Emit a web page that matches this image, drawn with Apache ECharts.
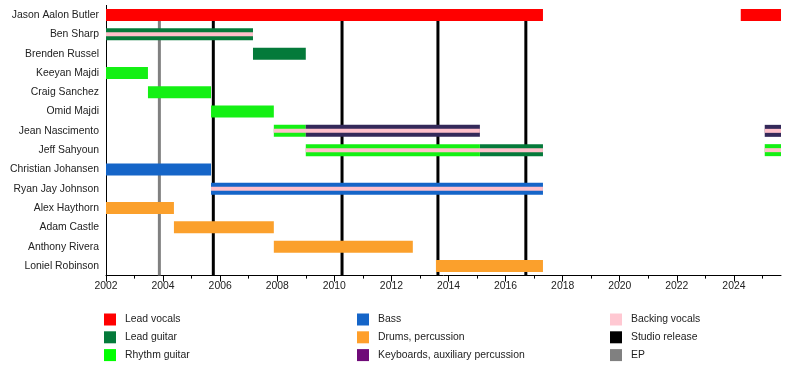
<!DOCTYPE html>
<html>
<head>
<meta charset="utf-8">
<script src="https://cdn.jsdelivr.net/npm/echarts@6/dist/echarts.min.js"></script>
<style>html,body{margin:0;padding:0;background:#fff}#c{width:800px;height:365px}</style>
</head>
<body>
<div id="c"></div>
<script>
// ---- data ----
const members = ['Jason Aalon Butler','Ben Sharp','Brenden Russel','Keeyan Majdi','Craig Sanchez','Omid Majdi','Jean Nascimento','Jeff Sahyoun','Christian Johansen','Ryan Jay Johnson','Alex Haythorn','Adam Castle','Anthony Rivera','Loniel Robinson'];
const timelineStart = 2002;
const timelineEnd = 2025.65;
const yearLabels = [2002,2004,2006,2008,2010,2012,2014,2016,2018,2020,2022,2024];
const minorYears = [2003,2005,2007,2009,2011,2013,2015,2017,2019,2021,2023,2025];
// spans: [start, end, member]
const leadVocals = [[2002, 2017.31, 'Jason Aalon Butler'], [2024.24, 2025.65, 'Jason Aalon Butler']];
const leadGuitar = [[2002, 2007.15, 'Ben Sharp'], [2007.15, 2009.0, 'Brenden Russel'], [2015.1, 2017.31, 'Jeff Sahyoun']];
const rhythmGuitar = [[2002, 2003.47, 'Keeyan Majdi'], [2003.47, 2005.68, 'Craig Sanchez'], [2005.68, 2007.88, 'Omid Majdi'], [2007.88, 2009.0, 'Jean Nascimento'], [2009.0, 2015.1, 'Jeff Sahyoun'], [2025.08, 2025.65, 'Jeff Sahyoun']];
const bass = [[2002, 2005.68, 'Christian Johansen'], [2005.68, 2017.31, 'Ryan Jay Johnson']];
const drums = [[2002, 2004.38, 'Alex Haythorn'], [2004.38, 2007.88, 'Adam Castle'], [2007.88, 2012.75, 'Anthony Rivera'], [2013.56, 2017.31, 'Loniel Robinson']];
const keyboards = [[2009.0, 2015.1, 'Jean Nascimento'], [2025.08, 2025.65, 'Jean Nascimento']];
const backingVocals = [[2002, 2007.15, 'Ben Sharp'], [2007.88, 2015.1, 'Jean Nascimento'], [2025.08, 2025.65, 'Jean Nascimento'], [2009.0, 2017.31, 'Jeff Sahyoun'], [2025.08, 2025.65, 'Jeff Sahyoun'], [2005.68, 2017.31, 'Ryan Jay Johnson']];
const studioReleases = [2005.76, 2010.27, 2013.63, 2016.71];
const epReleases = [2003.87];

const legendCol1 = ['Lead vocals','Lead guitar','Rhythm guitar'];
const legendCol2 = ['Bass','Drums, percussion','Keyboards, auxiliary percussion'];
const legendCol3 = ['Backing vocals','Studio release','EP'];

// ---- rendering ----
const FONT = '"Liberation Sans", Arial, sans-serif';
const FS = 10.4;
function toRows(spans){ return spans.map(s => [s[0], s[1], members.indexOf(s[2])]); }

function barSeries(name, spans, legendColor, fillColor, h, z){
  return {
    type: 'custom', name: name, z: z,
    itemStyle: {color: legendColor},
    encode: {x: [0, 1], y: 2},
    data: toRows(spans),
    silent: true,
    renderItem: function(params, api){
      const yi = api.value(2);
      const a = api.coord([api.value(0), yi]);
      const b = api.coord([api.value(1), yi]);
      return {type: 'rect', shape: {x: a[0], y: a[1] - h/2, width: b[0] - a[0], height: h},
              style: {fill: fillColor}};
    }
  };
}
function releaseSeries(name, values, color, z){
  return {
    type: 'custom', name: name, z: z,
    itemStyle: {color: color},
    encode: {x: 0, y: 1},
    data: values.map(v => [v, 0]),
    silent: true,
    renderItem: function(params, api){
      const cs = params.coordSys;
      const p = api.coord([api.value(0), 0]);
      return {type: 'line', shape: {x1: p[0], y1: p[1], x2: p[0], y2: cs.y + cs.height},
              style: {stroke: color, lineWidth: 3}};
    }
  };
}

const chart = echarts.init(document.getElementById('c'), null, {renderer: 'canvas'});
const legendCommon = {orient: 'vertical', top: 313.5, itemWidth: 12, itemHeight: 12, itemGap: 5.8,
  icon: 'rect', padding: 0, selectedMode: false,
  textStyle: {fontFamily: FONT, fontSize: FS, color: '#222', padding: [0,0,0,4]}};

chart.setOption({
  animation: false,
  backgroundColor: '#fff',
  textStyle: {fontFamily: FONT},
  grid: {left: 106, right: 19, top: 5.4, bottom: 89.4},
  legend: [
    Object.assign({left: 104, data: legendCol1}, legendCommon),
    Object.assign({left: 357, data: legendCol2}, legendCommon),
    Object.assign({left: 610, data: legendCol3}, legendCommon)
  ],
  xAxis: [
    {type: 'value', min: timelineStart, max: timelineEnd, position: 'bottom',
     axisLine: {show: true, onZero: false, lineStyle: {color: '#000', width: 1}},
     axisTick: {show: true, length: 6, customValues: yearLabels, lineStyle: {color: '#000'}},
     axisLabel: {customValues: yearLabels, fontSize: FS, color: '#222', margin: 6, fontFamily: FONT,
                 formatter: v => String(Math.round(v))},
     splitLine: {show: false}},
    {type: 'value', min: timelineStart, max: timelineEnd, position: 'bottom',
     axisLine: {show: false, onZero: false},
     axisTick: {show: true, length: 3, customValues: minorYears, lineStyle: {color: '#000'}},
     axisLabel: {show: false}, splitLine: {show: false}}
  ],
  yAxis: {type: 'category', data: members, inverse: true,
    axisLine: {show: true, lineStyle: {color: '#000'}},
    axisTick: {show: false},
    axisLabel: {fontSize: FS, color: '#222', margin: 7, fontFamily: FONT},
    splitLine: {show: false}},
  series: [
    releaseSeries('Studio release', studioReleases, '#000000', 1),
    releaseSeries('EP', epReleases, '#808080', 1),
    barSeries('Lead vocals', leadVocals, '#ff0000', '#ff0000', 12, 3),
    barSeries('Lead guitar', leadGuitar, '#047a3a', '#047a3a', 12, 3),
    barSeries('Rhythm guitar', rhythmGuitar, '#00ff00', '#14f014', 12, 3),
    barSeries('Bass', bass, '#1565c8', '#1565c8', 12, 3),
    barSeries('Drums, percussion', drums, '#ff9f2a', '#fba02c', 12, 3),
    barSeries('Keyboards, auxiliary percussion', keyboards, '#6f0a78', '#34295a', 12, 3),
    barSeries('Backing vocals', backingVocals, '#ffc8d2', '#ffc0cb', 4, 4)
  ]
});
</script>
</body>
</html>
